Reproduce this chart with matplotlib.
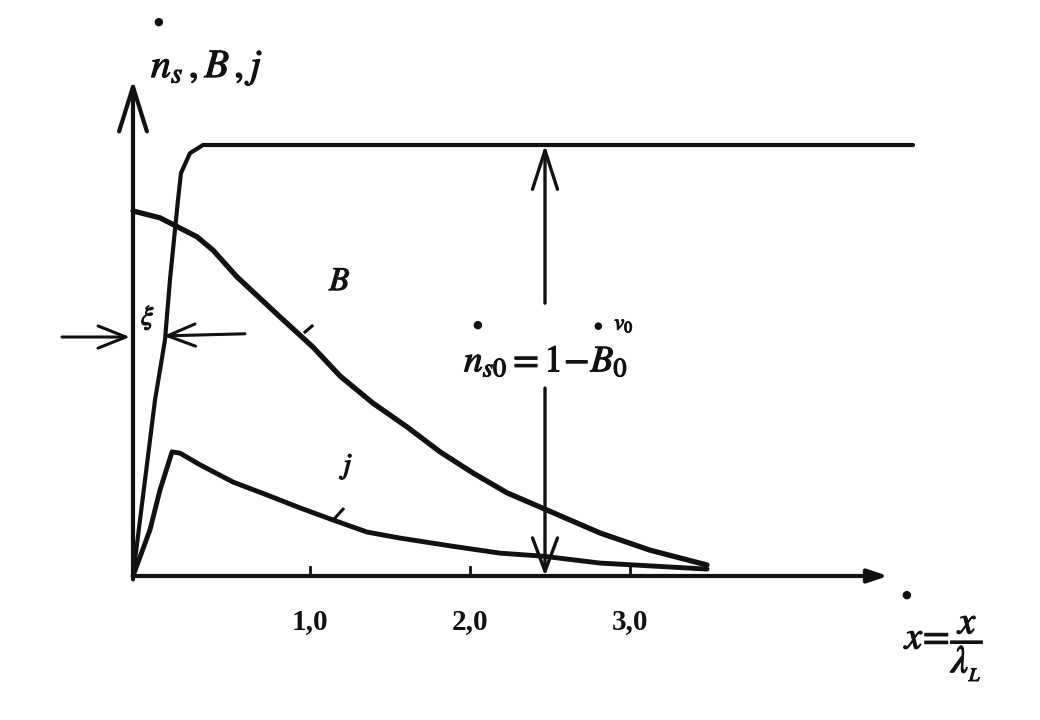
import matplotlib
matplotlib.use("Agg")
import matplotlib.pyplot as plt
import matplotlib.patheffects as pe

plt.rcParams['mathtext.fontset'] = 'stix'
plt.rcParams['font.family'] = ['Liberation Serif', 'DejaVu Serif']

# ---- data (x in units of the drawn scale, y normalised to plateau n_s = 1) ----
ns_x = [0.0, 0.1375, 0.2, 0.231, 0.281, 0.30, 0.356, 0.4375, 4.875]
ns_y = [0.0, 0.408, 0.548, 0.687, 0.872, 0.935, 0.981, 1.0, 1.0]

B_x = [0.0, 0.169, 0.4, 0.5, 0.65, 0.919, 1.125, 1.294, 1.5, 1.7125, 1.919,
       2.125, 2.3375, 2.544, 2.919, 3.231, 3.5875]
B_y = [0.847, 0.831, 0.787, 0.756, 0.694, 0.601, 0.531, 0.464, 0.401, 0.346,
       0.288, 0.239, 0.193, 0.160, 0.0998, 0.060, 0.0255]

j_x = [0.0, 0.106, 0.169, 0.244, 0.294, 0.419, 0.625, 0.8375, 1.044, 1.25,
       1.4625, 1.669, 1.98, 2.294, 2.5625, 2.919, 3.5875]
j_y = [0.0, 0.107, 0.2, 0.288, 0.285, 0.258, 0.218, 0.188, 0.158, 0.130,
       0.102, 0.088, 0.070, 0.053, 0.046, 0.030, 0.016]

tick_pos = [1.106, 2.106, 3.106]
tick_labels = ["1,0", "2,0", "3,0"]

x_gap = 2.575          # position of the n_s0 = 1 - B0 marker
ns0 = 1.0

K = '#111111'
bold = [pe.withStroke(linewidth=0.8, foreground=K)]

fig = plt.figure(figsize=(10.4, 7.2), dpi=100)
ax = fig.add_axes([0, 0, 1, 1])
ax.set_xlim(-133 / 160, (1040 - 133) / 160)
ax.set_ylim(-(720 - 576) / 431, 576 / 431)
ax.axis('off')


def dot(px, py, size=8):
    ax.text((px - 133) / 160, (576 - py) / 431, '\u25CF', ha='center',
            va='center', fontsize=size, color=K, family='DejaVu Sans')


# curves
ax.plot(ns_x, ns_y, color=K, lw=3.0, solid_capstyle='round', solid_joinstyle='round')
ax.plot(B_x, B_y, color=K, lw=3.8, solid_capstyle='round', solid_joinstyle='round')
ax.plot(j_x, j_y, color=K, lw=3.5, solid_capstyle='round', solid_joinstyle='round')

# axes arrows
ax.annotate('', xy=(0, 1.151), xytext=(0, -0.008),
            arrowprops=dict(arrowstyle='->,head_length=1.6,head_width=0.5',
                            color=K, lw=3, mutation_scale=20, shrinkA=0, shrinkB=0))
ax.annotate('', xy=(4.72, 0), xytext=(0, 0),
            arrowprops=dict(arrowstyle='-|>,head_length=0.6,head_width=0.2',
                            color=K, lw=3, mutation_scale=20, shrinkA=0, shrinkB=0))

# ticks
for tp, tl in zip(tick_pos, tick_labels):
    ax.plot([tp, tp], [0, 0.02], color=K, lw=2)
    ax.text(tp, -0.105, tl, ha='center', va='center', fontsize=21,
            fontweight='bold', color=K)

# vertical double arrow n_s0 = 1 - B0
ax.annotate('', xy=(x_gap, ns0), xytext=(x_gap, 0.633),
            arrowprops=dict(arrowstyle='->,head_length=1.4,head_width=0.45',
                            color=K, lw=2.4, mutation_scale=20, shrinkA=0, shrinkB=0))
ax.annotate('', xy=(x_gap, 0), xytext=(x_gap, 0.436),
            arrowprops=dict(arrowstyle='->,head_length=1.2,head_width=0.45',
                            color=K, lw=2.4, mutation_scale=20, shrinkA=0, shrinkB=0))
ax.text(2.581, 0.497, r"$n_{s0}=1\!-\!B_0$", ha='center', va='center',
        fontsize=27, color=K, path_effects=bold)
dot(477, 325, 8)
dot(598, 326, 7)
ax.text((624 - 133) / 160, (576 - 325) / 431, r"$v_0$", ha='center', va='center',
        fontsize=16, color=K, path_effects=bold)

# xi arrows
ax.annotate('', xy=(-0.019, 0.5545), xytext=(-0.444, 0.5545),
            arrowprops=dict(arrowstyle='->,head_length=1.0,head_width=0.4',
                            color=K, lw=2.2, mutation_scale=20, shrinkA=0, shrinkB=0))
ax.annotate('', xy=(0.19, 0.557), xytext=(0.70, 0.562),
            arrowprops=dict(arrowstyle='->,head_length=1.0,head_width=0.4',
                            color=K, lw=2.2, mutation_scale=20, shrinkA=0, shrinkB=0))
ax.text(0.094, 0.600, r"$\xi$", ha='center', va='center', fontsize=20,
        color=K, path_effects=bold)

# curve labels and leader strokes
ax.text(1.294, 0.682, r"$B$", ha='center', va='center', fontsize=24, color=K,
        path_effects=bold)
ax.plot([1.075, 1.119], [0.566, 0.580], color=K, lw=2.2)
ax.text(1.356, 0.253, r"$j$", ha='center', va='center', fontsize=21, color=K,
        path_effects=bold)
ax.plot([1.2625, 1.3125], [0.1346, 0.155], color=K, lw=2.2)

# y axis label
dot(158, 22, 8)
ax.text(0.4625, 1.179, r"$n_s\,,B\,,j$", ha='center', va='center',
        fontsize=29, color=K, path_effects=bold)

# x axis label
dot(906, 595, 8)
ax.text((945 - 133) / 160, (576 - 648) / 431, r"$x\!=\!\dfrac{x}{\lambda_{_L}}$",
        ha='center', va='center', fontsize=28, color=K, path_effects=bold)

fig.savefig('out.png', dpi=100)
